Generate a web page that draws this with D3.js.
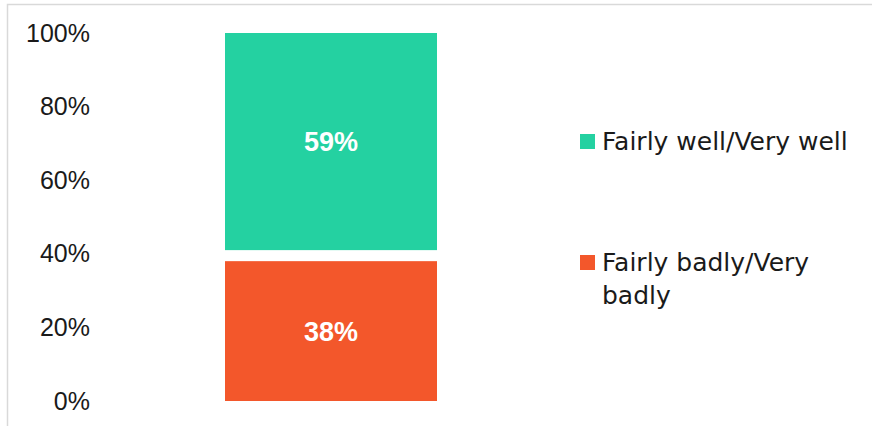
<!DOCTYPE html>
<html>
<head>
<meta charset="utf-8">
<script src="https://cdn.jsdelivr.net/npm/d3@7"></script>
<style>
  html, body { margin: 0; padding: 0; background: #fff; }
  svg { display: block; font-family: "DejaVu Sans", sans-serif; }
</style>
</head>
<body>
<svg id="chart" width="872" height="426"></svg>
<script>
// ---- data ----
const categories = ["Total"];
const seriesNames = ["Fairly badly/Very badly", "Don't know", "Fairly well/Very well"];
const badlyValues = [0.38];
const dontKnowValues = [0.03];
const wellValues = [0.59];
const tickValues = [0, 0.2, 0.4, 0.6, 0.8, 1.0];
const tickLabels = ["0%", "20%", "40%", "60%", "80%", "100%"];
const legendNames = ["Fairly well/Very well", "Fairly badly/Very badly"];

const colors = {
  "Fairly badly/Very badly": "#F3572B",
  "Don't know": "none",
  "Fairly well/Very well": "#24D1A1"
};

const svg = d3.select("#chart");

// chart area border
svg.append("rect")
  .attr("x", 7.5).attr("y", 4.5)
  .attr("width", 1000).attr("height", 1000)
  .attr("fill", "none")
  .attr("stroke", "#d9d9d9")
  .attr("stroke-width", 1.5);

const table = categories.map((c, i) => ({
  category: c,
  [seriesNames[0]]: badlyValues[i],
  [seriesNames[1]]: dontKnowValues[i],
  [seriesNames[2]]: wellValues[i]
}));

const stack = d3.stack().keys(seriesNames);
const stacked = stack(table);

const x = d3.scaleBand().domain(categories).range([13, 649]).padding(0.5);
const y = d3.scaleLinear().domain([0, 1]).range([401, 33]);

// y axis
const yAxis = svg.append("g")
  .attr("transform", "translate(98,0)")
  .call(d3.axisLeft(y).tickValues(tickValues).tickFormat((d, i) => tickLabels[i]).tickSize(0).tickPadding(8));
yAxis.select(".domain").remove();
yAxis.selectAll("text")
  .attr("font-family", "'Liberation Sans', Arial, sans-serif")
  .attr("font-size", 25)
  .attr("fill", "#1a1a1a");

// bars
const layers = svg.append("g").selectAll("g")
  .data(stacked).join("g")
  .attr("fill", d => colors[d.key]);

layers.selectAll("rect")
  .data(d => d.map(v => ({ key: d.key, v })))
  .join("rect")
  .attr("x", d => x(d.v.data.category))
  .attr("width", x.bandwidth())
  .attr("y", d => y(d.v[1]))
  .attr("height", d => y(d.v[0]) - y(d.v[1]));

// data labels
stacked.filter(s => colors[s.key] !== "none").forEach(s => {
  svg.append("g").selectAll("text")
    .data(s).join("text")
    .attr("x", d => x(d.data.category) + x.bandwidth() / 2)
    .attr("y", d => y((d[0] + d[1]) / 2))
    .attr("dy", "0.36em")
    .attr("text-anchor", "middle")
    .attr("fill", "#ffffff")
    .attr("font-family", "'Liberation Sans', Arial, sans-serif")
    .attr("font-weight", "bold")
    .attr("font-size", 27)
    .text(d => Math.round((d[1] - d[0]) * 100) + "%");
});

// legend
const legendX = 580;
const legendY = [134, 255];
const lineH = 33;
const maxW = 260;
legendNames.forEach((name, i) => {
  const g = svg.append("g").attr("transform", `translate(${legendX},${legendY[i]})`);
  g.append("rect").attr("width", 15).attr("height", 15).attr("fill", colors[name]);
  const t = g.append("text")
    .attr("x", 22).attr("y", 16)
    .attr("font-size", 25)
    .attr("fill", "#1a1a1a");
  // wrap words
  const words = name.split(" ");
  let line = [];
  let tspan = t.append("tspan").attr("x", 22).attr("dy", 0);
  words.forEach(w => {
    line.push(w);
    tspan.text(line.join(" "));
    if (tspan.node().getComputedTextLength() > maxW && line.length > 1) {
      line.pop();
      tspan.text(line.join(" "));
      line = [w];
      tspan = t.append("tspan").attr("x", 22).attr("dy", lineH).text(w);
    }
  });
});
</script>
</body>
</html>
